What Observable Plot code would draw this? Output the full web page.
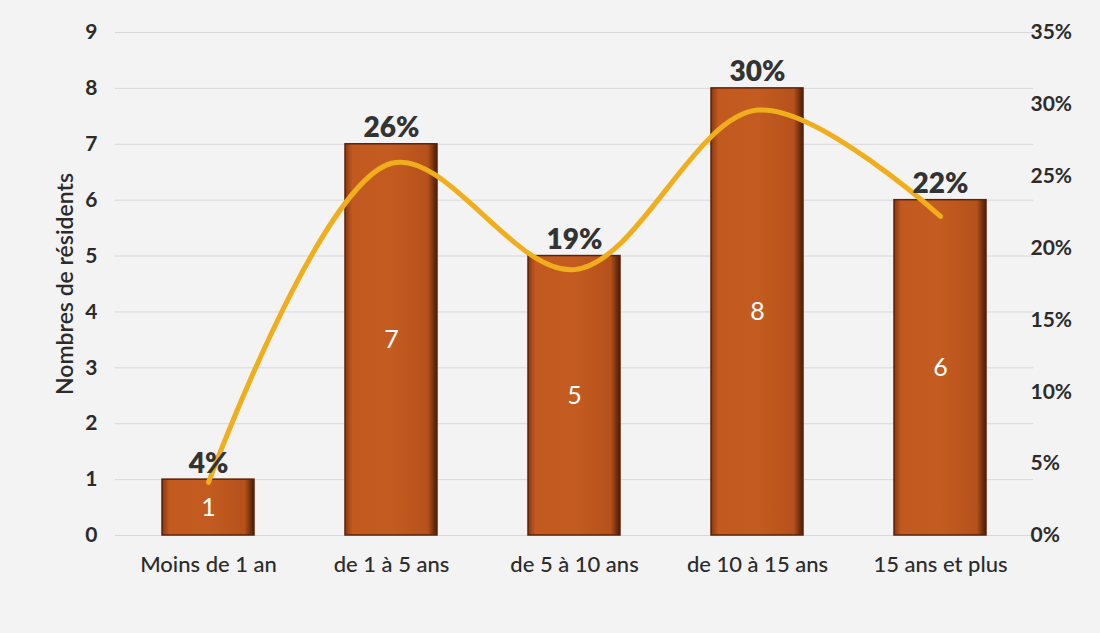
<!DOCTYPE html>
<html><head><meta charset="utf-8">
<script src="https://cdn.jsdelivr.net/npm/d3@7"></script>
<script src="https://cdn.jsdelivr.net/npm/@observablehq/plot@0.6"></script>
<style>
html,body{margin:0;padding:0;background:#f3f3f3;}
#chart svg{display:block;}
</style>
</head><body><div id="chart"></div>
<script>
const categories = ["Moins de 1 an", "de 1 à 5 ans", "de 5 à 10 ans", "de 10 à 15 ans", "15 ans et plus"];
const counts = [1, 7, 5, 8, 6];
const shares = [0.037, 0.259, 0.185, 0.296, 0.222];
const shareLabels = ["4%", "26%", "19%", "30%", "22%"];
const leftTicks = [0, 1, 2, 3, 4, 5, 6, 7, 8, 9];
const rightTicks = [0, 0.05, 0.10, 0.15, 0.20, 0.25, 0.30, 0.35];
const yLabel = "Nombres de résidents";

const leftMax = 9, rightMax = 0.35;
const data = categories.map((c, i) => ({cat: c, count: counts[i], share: shares[i], label: shareLabels[i]}));

const defs = () => {
  const d = d3.create("svg:defs");
  const g = d.append("linearGradient").attr("id", "barGrad").attr("x1", "0").attr("x2", "1").attr("y1", "0").attr("y2", "0");
  [["0%", "#8a3812"], ["8%", "#c25a20"], ["50%", "#c45c21"], ["90%", "#b5511b"], ["100%", "#4a1c06"]]
    .forEach(([o, c]) => g.append("stop").attr("offset", o).attr("stop-color", c));
  return d.node();
};

const font = "Lato, 'Open Sans', sans-serif";
const chart = Plot.plot({
  width: 1100,
  height: 633,
  marginLeft: 115,
  marginRight: 67,
  marginTop: 32,
  marginBottom: 98,
  style: {background: "#f3f3f3", fontFamily: font, color: "#2b2b2b"},
  x: {domain: categories, paddingInner: 0.5, paddingOuter: 0.25, label: null},
  y: {domain: [0, leftMax], label: null},
  marks: [
    defs,
    Plot.gridY(leftTicks, {stroke: "#d8d8dc", strokeOpacity: 1, strokeWidth: 1}),
    Plot.axisY(leftTicks, {anchor: "left", tickSize: 0, tickPadding: 18, fontSize: 21, fontWeight: 700,
      label: null, tickFormat: d => String(d)}),
    Plot.text([yLabel], {frameAnchor: "left", text: d => d, rotate: -90, dx: -50, textAnchor: "middle",
      fontSize: 23, fontWeight: 600, fill: "#2b2b2b"}),
    Plot.axisY(rightTicks, {anchor: "right", y: d => d * leftMax / rightMax, tickSize: 0, tickPadding: -3,
      fontSize: 21, fontWeight: 700, label: null, tickFormat: d => `${Math.round(d * 100)}%`}),
    Plot.axisX({tickSize: 0, tickPadding: 21, fontSize: 22, fontWeight: 500, label: null}),
    Plot.barY(data, {x: "cat", y: "count", fill: "url(#barGrad)", stroke: "#5a230a", strokeWidth: 1.5}),
    Plot.text(data, {x: "cat", y: d => d.count / 2, text: d => String(d.count), fill: "white", fontSize: 25}),
    Plot.line(data, {x: "cat", y: d => d.share * leftMax / rightMax, curve: "catmull-rom", stroke: "#f0ae1c", strokeWidth: 5}),
    Plot.text(data, {x: "cat", y: "count", text: "label", dy: -16, fontSize: 28, fontWeight: 800, fill: "#333"})
  ]
});
document.getElementById("chart").append(chart);
</script>
</body></html>
